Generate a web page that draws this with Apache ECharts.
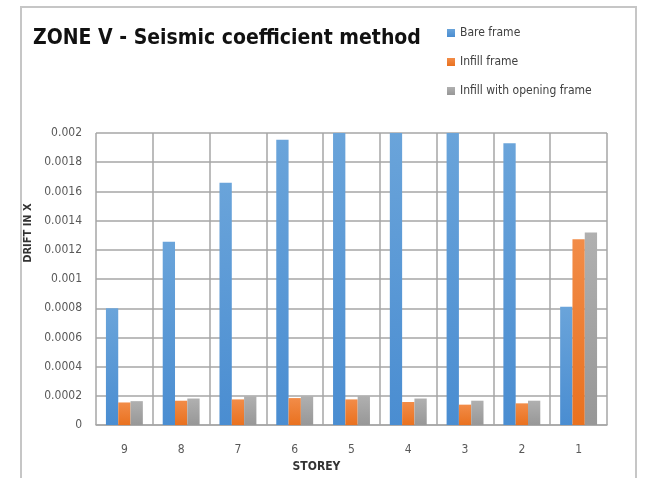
<!DOCTYPE html>
<html>
<head>
<meta charset="utf-8">
<script src="https://cdn.jsdelivr.net/npm/echarts@6/dist/echarts.min.js"></script>
<style>
html,body{margin:0;padding:0;background:#fff;overflow:hidden;}
#c{width:655px;height:478px;}
</style>
</head>
<body>
<div id="c"></div>
<script>
var categories = ['9','8','7','6','5','4','3','2','1'];
var bareFrame = [0.0008, 0.001255, 0.00166, 0.001953, 0.002, 0.002, 0.002, 0.00193, 0.00081];
var infillFrame = [0.000155, 0.000167, 0.000176, 0.000185, 0.000176, 0.000158, 0.00014, 0.000149, 0.001272];
var infillOpening = [0.000164, 0.000182, 0.000198, 0.000198, 0.0002, 0.000182, 0.000167, 0.000167, 0.001318];
var yTickLabels = ['0','0.0002','0.0004','0.0006','0.0008','0.001','0.0012','0.0014','0.0016','0.0018','0.002'];
var seriesNames = ['Bare frame','Infill frame','Infill with opening frame'];

var FONT = "'Liberation Sans Narrow','DejaVu Sans Condensed','Liberation Sans',sans-serif";
function grad(top, bottom){
  return new echarts.graphic.LinearGradient(0,0,0,1,[{offset:0,color:top},{offset:1,color:bottom}]);
}
var chart = echarts.init(document.getElementById('c'), null, {renderer:'canvas', width:655, height:478});
chart.setOption({
  animation:false,
  backgroundColor:'#ffffff',
  graphic:[{
    type:'rect', shape:{x:21,y:7,width:615,height:520},
    style:{fill:'none',stroke:'#c6c6c6',lineWidth:2}, silent:true, z:-1
  }],
  title:{
    text:'ZONE V - Seismic coefficient method',
    left:28, top:23,
    textStyle:{fontFamily:FONT,fontSize:21,fontWeight:'bold',color:'#111111'}
  },
  legend:{
    orient:'vertical', left:442, top:22,
    itemWidth:8, itemHeight:8, itemGap:17,
    icon:'rect',
    textStyle:{fontFamily:FONT,fontSize:12,color:'#404040'},
    data:seriesNames
  },
  grid:{left:96,width:511,top:133,height:296},
  xAxis:{
    type:'category', data:categories,
    name:'STOREY', nameLocation:'middle', nameGap:31,
    nameTextStyle:{fontFamily:FONT,fontSize:12,fontWeight:'bold',color:'#333333',padding:[0,70,0,0]},
    axisLine:{show:true,lineStyle:{color:'#a6a6a6',width:1.5}},
    axisTick:{show:false},
    axisLabel:{margin:19,fontFamily:FONT,fontSize:12,color:'#595959'},
    splitLine:{show:true,interval:0,lineStyle:{color:'#a6a6a6',width:1.5}}
  },
  yAxis:{
    type:'value', min:0, max:0.002, interval:0.0002,
    name:'DRIFT IN X', nameLocation:'middle', nameGap:58,
    nameTextStyle:{fontFamily:FONT,fontSize:11,fontWeight:'bold',color:'#333333',padding:[0,0,0,92]},
    axisLine:{show:false}, axisTick:{show:false},
    axisLabel:{margin:14,fontFamily:FONT,fontSize:12,color:'#595959',
      formatter:function(v){return yTickLabels[Math.round(v/0.0002)];}},
    splitLine:{show:true,lineStyle:{color:'#a6a6a6',width:1.5}}
  },
  series:[
    {name:seriesNames[0],type:'bar',data:bareFrame,barGap:'0%',barCategoryGap:'35%',
     itemStyle:{color:grad('#6aa4da','#4a8dd1')}},
    {name:seriesNames[1],type:'bar',data:infillFrame,barGap:'0%',barCategoryGap:'35%',
     itemStyle:{color:grad('#f28c48','#e9711f')}},
    {name:seriesNames[2],type:'bar',data:infillOpening,barGap:'0%',barCategoryGap:'35%',
     itemStyle:{color:grad('#b0b0b0','#979797')}}
  ]
});
</script>
</body>
</html>
